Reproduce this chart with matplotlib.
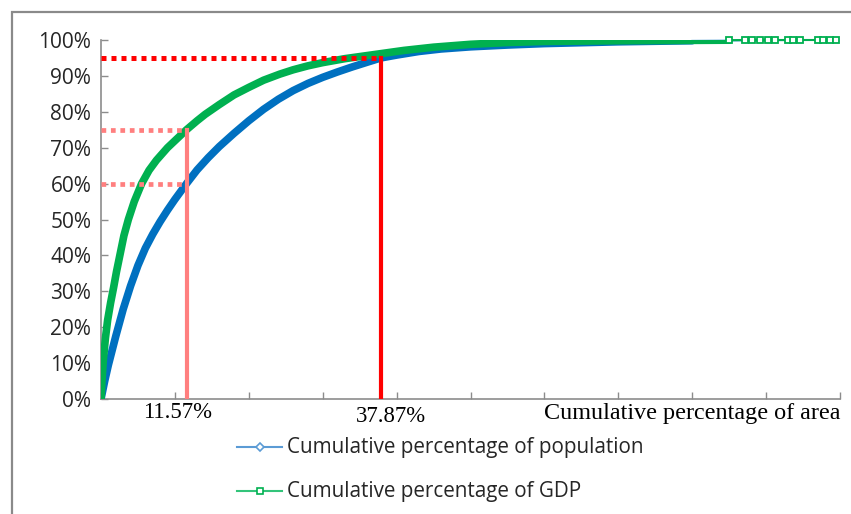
import matplotlib
matplotlib.use("Agg")
import matplotlib.pyplot as plt
from matplotlib.lines import Line2D
from matplotlib.patches import Rectangle

# ---- data ----
pop_x = [0, 0.002, 0.005, 0.01, 0.015, 0.02, 0.03, 0.04, 0.05, 0.06, 0.07, 0.08,
         0.09, 0.10, 0.1157, 0.13, 0.145, 0.16, 0.18, 0.20, 0.22, 0.24, 0.26,
         0.28, 0.30, 0.32, 0.34, 0.36, 0.3787, 0.40, 0.43, 0.46, 0.50, 0.55,
         0.60, 0.70, 0.80, 0.90, 0.995]
pop_y = [0, 0.02, 0.05, 0.095, 0.135, 0.175, 0.25, 0.315, 0.372, 0.42, 0.459,
         0.494, 0.526, 0.556, 0.60, 0.638, 0.672, 0.703, 0.74, 0.775, 0.807,
         0.835, 0.859, 0.879, 0.896, 0.911, 0.925, 0.938, 0.95, 0.958, 0.968,
         0.975, 0.981, 0.986, 0.99, 0.995, 0.998, 0.999, 1.0]

gdp_x = [0, 0.001, 0.003, 0.006, 0.009, 0.013, 0.017, 0.021, 0.026, 0.031, 0.037,
         0.045, 0.055, 0.065, 0.075, 0.09, 0.1157, 0.13, 0.141, 0.16, 0.18, 0.20,
         0.22, 0.242, 0.26, 0.28, 0.30, 0.33, 0.3787, 0.41, 0.45, 0.50, 0.55,
         0.60, 0.70, 0.80, 0.85]
gdp_y = [0, 0.04, 0.105, 0.17, 0.22, 0.268, 0.31, 0.355, 0.405, 0.455, 0.50,
         0.55, 0.60, 0.637, 0.665, 0.70, 0.75, 0.775, 0.793, 0.82, 0.847, 0.868,
         0.888, 0.905, 0.917, 0.928, 0.937, 0.948, 0.962, 0.971, 0.98, 0.988,
         0.993, 0.996, 0.998, 0.999, 0.9995]

gdp_tail_x = [0.85, 0.871, 0.881, 0.892, 0.903, 0.912, 0.93,
              0.936, 0.946, 0.97, 0.977, 0.986, 0.995]
gdp_tail_y = [0.9995, 1.0, 1.0, 1.0, 1.0, 1.0, 1.0,
              1.0, 1.0, 1.0, 1.0, 1.0, 1.0]

mark_x = [0.1157, 0.3787]          # vertical reference lines
mark_labels = ["11.57%", "37.87%"]
pink_levels = [0.60, 0.75]
red_level = 0.95
yticks = [i / 10 for i in range(11)]
ytick_labels = [f"{i * 10}%" for i in range(11)]
xticks = [i / 10 for i in range(11)]
labels = ["Cumulative percentage of population", "Cumulative percentage of GDP"]
xlabel = "Cumulative percentage of area"

BLUE = "#0070C0"
GREEN = "#00B050"
RED = "#FF0000"
PINK = "#FF7F7F"
GRAY = "#8C8C8C"

W, H = 851, 514
fig = plt.figure(figsize=(W / 100, H / 100), dpi=100)
ax = fig.add_axes([101 / W, 1 - 399 / H, (840 - 101) / W, (399 - 40) / H])
renderer = fig.canvas.get_renderer()


def fit_width(txt, target_px):
    """Scale the font size of a text so it spans target_px pixels."""
    for _ in range(3):
        w = txt.get_window_extent(renderer).width
        txt.set_fontsize(txt.get_fontsize() * target_px / w)
    return txt.get_fontsize()


# outer frame of the chart area
fig.add_artist(Rectangle((12 / W, -0.05), 1.2, 1 - 12 / H + 0.05,
                         transform=fig.transFigure, fill=False,
                         edgecolor="#8A8A8A", lw=1.6))

# curves: dense part drawn as a thick band, sparse tail as a thin line
split = pop_x.index(0.80)
ax.plot(pop_x[:split + 1], pop_y[:split + 1], color=BLUE, lw=5.5,
        solid_capstyle="round", solid_joinstyle="round", zorder=3)
ax.plot(pop_x[split:], pop_y[split:], color=BLUE, lw=1.2, zorder=3, clip_on=False)
ax.plot(gdp_x, gdp_y, color=GREEN, lw=5.5, solid_capstyle="round",
        solid_joinstyle="round", zorder=4)
ax.plot(gdp_tail_x, gdp_tail_y, color=GREEN, lw=1.5, marker="s", ms=4.5,
        mfc="white", mec=GREEN, mew=1.3, zorder=4, clip_on=False)

# reference lines
ax.plot([0, mark_x[1]], [red_level, red_level], color=RED, lw=3.6,
        ls=(0, (1, 1)), zorder=6)
ax.plot([mark_x[1], mark_x[1]], [0, red_level], color=RED, lw=3, zorder=6)
for lvl in pink_levels:
    ax.plot([0, mark_x[0]], [lvl, lvl], color=PINK, lw=3.4,
            ls=(0, (1, 1)), zorder=6)
ax.plot([mark_x[0], mark_x[0]], [0, max(pink_levels)], color=PINK, lw=3, zorder=6)

ax.set_xlim(0, 1)
ax.set_ylim(0, 1)
ax.set_yticks(yticks)
ax.set_yticklabels(ytick_labels)
ax.set_xticks(xticks)
ax.set_xticklabels([])
for s in ["top", "right"]:
    ax.spines[s].set_visible(False)
for s in ["left", "bottom"]:
    ax.spines[s].set_color(GRAY)
    ax.spines[s].set_linewidth(1.2)
ax.tick_params(axis="both", direction="in", length=5, color=GRAY, width=1)
ax.tick_params(axis="y", pad=7, labelcolor="#262626")

# y tick labels sized so that "100%" spans ~53 px
probe = fig.text(0, 0, "100%", family="Open Sans", fontsize=14)
ysize = fit_width(probe, 53)
probe.remove()
for t in ax.get_yticklabels():
    t.set_fontfamily("Open Sans")
    t.set_fontsize(ysize)

# x annotations (serif)
serif = "Liberation Serif"
t1 = fig.text(178 / W, 1 - 413 / H, mark_labels[0], ha="center", va="center",
              fontsize=17, family=serif)
fit_width(t1, 69)
t2 = fig.text(391 / W, 1 - 416 / H, mark_labels[1], ha="center", va="center",
              fontsize=17, family=serif)
t2.set_fontsize(t1.get_fontsize())
t3 = fig.text(840 / W, 1 - 413 / H, xlabel, ha="right", va="center",
              fontsize=17, family=serif)
fit_width(t3, 296)

# legend (placed by hand to match the reference layout)
leg_rows = [447, 491]
leg_colors = ["#5B9BD5", "#33C47A"]
leg_edge = ["#5B9BD5", "#00B050"]
leg_markers = ["D", "s"]
leg_size = None
for lab, yy, c, e, m in zip(labels, leg_rows, leg_colors, leg_edge, leg_markers):
    fy = 1 - yy / H
    fig.add_artist(Line2D([237 / W, 282 / W], [fy, fy], transform=fig.transFigure,
                          color=c, lw=1.5))
    fig.add_artist(Line2D([259.5 / W], [fy], transform=fig.transFigure,
                          color=c, lw=0, marker=m, ms=4 if m == "D" else 4.5,
                          mfc="white", mec=e, mew=1.2))
    tt = fig.text(287 / W, fy, lab, ha="left", va="center", family="Open Sans",
                  fontsize=15, color="#262626")
    if leg_size is None:
        leg_size = fit_width(tt, 356)
    tt.set_fontsize(leg_size)

fig.savefig("out.png", dpi=100)
